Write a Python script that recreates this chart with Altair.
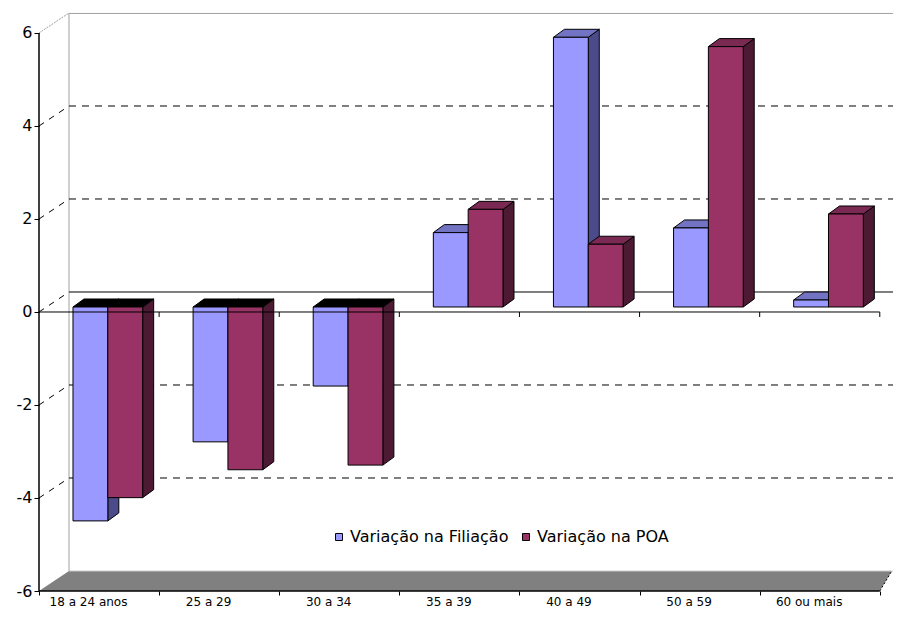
import json
import altair as alt
import pandas as pd

# ---------------- data ----------------
CATEGORIES = ["18 a 24 anos", "25 a 29", "30 a 34", "35 a 39", "40 a 49", "50 a 59", "60 ou mais"]
SERIES = ["Variação na Filiação", "Variação na POA"]
FILIACAO = [-4.6, -2.9, -1.7, 1.6, 5.8, 1.7, 0.15]
POA = [-4.1, -3.5, -3.4, 2.1, 1.35, 5.6, 2.0]
Y_TICKS = [-6, -4, -2, 0, 2, 4, 6]
GRID_VALUES = [-4, -2, 2, 4]

# ---------------- style ----------------
FRONT = ["#9999FF", "#993366"]
SIDE = ["#4B4B8C", "#4D1A33"]
TOP = ["#7373C4", "#7A2952"]

W, H = 854, 578
XMAX = 7.11
YMIN, YMAX = -6.0, 6.43
PXX = W / XMAX              # px per category unit
PXY = H / (YMAX - YMIN)     # px per value unit

WALL_DX_L = 30 / PXX        # back wall offset (left)
WALL_DX_R = 12 / PXX        # back wall offset (right)
WALL_DV = 20 / PXY          # back wall vertical offset
BAR_PLANE = 5 / PXY         # bars' front plane offset
BAR_DX = 11 / PXX           # bar depth (horizontal)
BAR_DV = 8 / PXY            # bar depth (vertical)
BAR_START = 0.283
BAR_W = 0.29
NCAT = len(CATEGORIES)

xs = alt.Scale(domain=[0, XMAX], nice=False, zero=False)
ys = alt.Scale(domain=[YMIN, YMAX], nice=False, zero=False)

label_expr = "datum.value < %d ? %s[datum.value] : ''" % (NCAT, json.dumps(CATEGORIES, ensure_ascii=False))
x_axis = alt.Axis(values=list(range(NCAT + 1)), title=None, domain=False, grid=False,
                  tickSize=4, tickColor="black", labelExpr=label_expr, labelOffset=49,
                  labelFlush=False, labelOverlap=False, labelPadding=1,
                  labelFont="DejaVu Sans", labelFontSize=12, labelColor="black")
y_axis = alt.Axis(values=Y_TICKS, title=None, domain=False, grid=False,
                  tickSize=5, tickColor="black", labelExpr="'' + datum.value",
                  labelFont="DejaVu Sans", labelFontSize=16, labelColor="black", labelPadding=2)


def X(field):
    return alt.X(field, scale=xs, axis=x_axis)


def Y(field):
    return alt.Y(field, scale=ys, axis=y_axis)


# ---------------- bar geometry tables ----------------
front_rows, side_rows, top_rows = [], [], []
for s, vals in enumerate([FILIACAO, POA]):
    for i, v in enumerate(vals):
        x0 = i + BAR_START + s * BAR_W
        x1 = x0 + BAR_W
        lo = BAR_PLANE + min(0, v)
        hi = BAR_PLANE + max(0, v)
        bid = f"{s}-{i}"
        front_rows.append(dict(s=s, series=SERIES[s], x=x0, x2=x1, y=lo, y2=hi))
        side_rows.append(dict(s=s, bar=bid, x=x1, y=lo, y2=hi, fill=SIDE[s]))
        side_rows.append(dict(s=s, bar=bid, x=x1 + BAR_DX, y=lo + BAR_DV, y2=hi + BAR_DV, fill=SIDE[s]))
        tcol = TOP[s] if v > 0 else "#000000"
        top_rows.append(dict(s=s, bar=bid, y=hi, x=x0, x2=x1, fill=tcol))
        top_rows.append(dict(s=s, bar=bid, y=hi + BAR_DV, x=x0 + BAR_DX, x2=x1 + BAR_DX, fill=tcol))
front_df = pd.DataFrame(front_rows)
side_df = pd.DataFrame(side_rows)
top_df = pd.DataFrame(top_rows)

# ---------------- frame geometry ----------------
floor_df = pd.DataFrame([
    dict(y=YMIN, x=0, x2=NCAT),
    dict(y=YMIN + WALL_DV, x=WALL_DX_L, x2=NCAT + WALL_DX_R),
])


def segs(rows):
    return pd.DataFrame(rows, columns=["x", "x2", "y", "y2"])


grid_dashed = segs([(WALL_DX_L, XMAX, v + WALL_DV, v + WALL_DV) for v in GRID_VALUES])
grid_solid = segs([(WALL_DX_L, XMAX, WALL_DV, WALL_DV)])
connectors = segs([(0, WALL_DX_L, v, v + WALL_DV) for v in GRID_VALUES + [0]])
wall_edges = segs([
    (WALL_DX_L, WALL_DX_L, YMIN + WALL_DV, YMAX),
    (WALL_DX_L, XMAX, YMAX - 0.01, YMAX - 0.01),
])
wall_diag = segs([(0, WALL_DX_L, 6, 6 + WALL_DV)])
floor_back = segs([(WALL_DX_L, XMAX, YMIN + WALL_DV, YMIN + WALL_DV)])
floor_right = segs([(NCAT, NCAT + WALL_DX_R, YMIN, YMIN + WALL_DV)])
front_zero = segs([(0, NCAT, 0, 0)] + [(k, k, 0, -BAR_PLANE) for k in range(1, NCAT + 1)])
axes_lines = segs([(0, 0, YMIN, 6), (0, NCAT, YMIN, YMIN)])


def rule(df, color="black", dash=None, width=1.0):
    kw = dict(color=color, strokeWidth=width)
    if dash:
        kw["strokeDash"] = dash
    return alt.Chart(df).mark_rule(**kw).encode(
        x=X("x:Q"), x2="x2:Q", y=Y("y:Q"), y2="y2:Q")


floor = alt.Chart(floor_df).mark_area(orient="horizontal", color="#808080").encode(
    y=Y("y:Q"), x=X("x:Q"), x2="x2:Q")

color_enc = alt.Color("series:N", scale=alt.Scale(domain=SERIES, range=FRONT),
                      legend=alt.Legend(title=None, orient="none", direction="horizontal",
                                        legendX=292, legendY=516, symbolType="square",
                                        symbolSize=49, symbolStrokeColor="black",
                                        symbolStrokeWidth=1, labelFont="DejaVu Sans",
                                        labelFontSize=16, labelColor="black", labelLimit=400,
                                        labelOffset=3, columnPadding=9))


def bar_layers(s):
    side = alt.Chart(side_df[side_df.s == s]).mark_area(stroke="black", strokeWidth=1).encode(
        x=X("x:Q"), y=Y("y:Q"), y2="y2:Q",
        color=alt.Color("fill:N", scale=None), detail="bar:N")
    top = alt.Chart(top_df[top_df.s == s]).mark_area(orient="horizontal", stroke="black", strokeWidth=1).encode(
        y=Y("y:Q"), x=X("x:Q"), x2="x2:Q",
        color=alt.Color("fill:N", scale=None), detail="bar:N")
    front = alt.Chart(front_df[front_df.s == s]).mark_rect(stroke="black", strokeWidth=1).encode(
        x=X("x:Q"), x2="x2:Q", y=Y("y:Q"), y2="y2:Q", color=color_enc)
    return [side, top, front]


layers = [
    floor,
    rule(floor_back, color="#C8C8C8"),
    rule(floor_right, dash=[2, 2]),
    rule(wall_edges, color="#A0A0A0"),
    rule(wall_diag, color="#A0A0A0", dash=[2, 1]),
    rule(grid_dashed, dash=[7, 6]),
    rule(grid_solid),
    rule(connectors, dash=[6, 6]),
] + bar_layers(0) + bar_layers(1) + [
    rule(front_zero),
    rule(axes_lines, width=1.5),
]

chart = alt.layer(*layers).properties(
    width=W, height=H,
    padding={"left": 31, "top": 5, "right": 0, "bottom": 20},
    autosize=alt.AutoSizeParams(type="none"),
    background="white",
).configure_view(stroke=None)

chart.save("out.html", embed_options={"renderer": "svg", "actions": False})
